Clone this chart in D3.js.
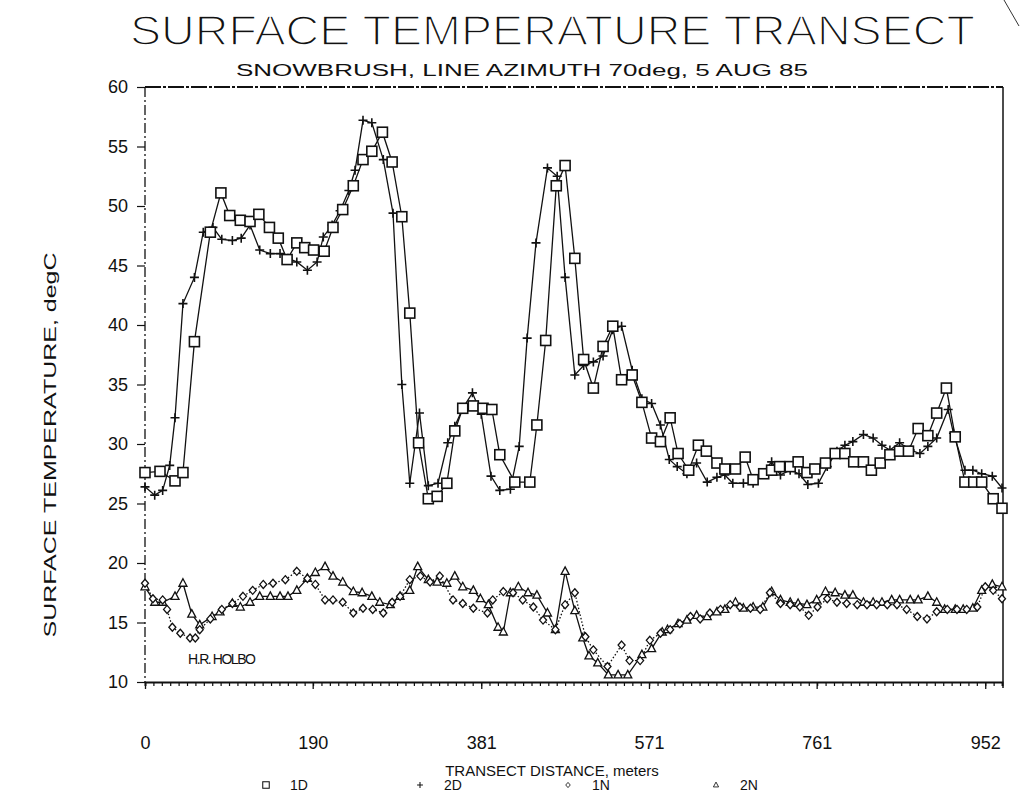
<!DOCTYPE html>
<html><head><meta charset="utf-8">
<script src="https://cdn.jsdelivr.net/npm/d3@7"></script>
<style>
html,body{margin:0;padding:0;background:#fff;}
text{font-family:"Liberation Sans",Arial,sans-serif;fill:#111;}
</style></head>
<body><svg id="c" width="1021" height="792"></svg>
<script>
// ---- data (distance m, temperature degC) ----
const s1D = [[0,27.6],[17,27.7],[34,26.9],[43,27.6],[56,38.6],[74,47.8],[86,51.1],[96,49.2],[108,48.8],[119,48.7],[129,49.3],[141,48.2],[151,47.3],[161,45.5],[172,46.9],[181,46.5],[191,46.3],[203,46.2],[213,48.2],[224,49.7],[236,51.7],[247,53.9],[257,54.6],[269,56.2],[280,53.7],[291,49.1],[300,41.0],[310,30.1],[321,25.4],[331,25.6],[342,26.7],[351,31.1],[360,33.0],[372,33.2],[383,33.0],[393,32.9],[402,29.1],[419,26.8],[436,26.8],[444,31.6],[454,38.7],[466,51.7],[476,53.4],[487,45.6],[497,37.1],[508,34.7],[519,38.2],[530,39.9],[540,35.4],[552,35.8],[563,33.5],[574,30.5],[584,30.2],[595,32.2],[604,29.2],[616,27.8],[627,29.9],[636,29.4],[648,28.4],[657,27.9],[669,27.9],[680,28.9],[689,27.0],[701,27.5],[710,27.8],[719,28.1],[731,28.1],[740,28.5],[750,27.6],[759,27.9],[771,28.4],[782,29.2],[793,29.2],[803,28.5],[814,28.5],[823,27.8],[833,28.4],[844,29.1],[855,29.4],[865,29.4],[876,31.3],[887,30.7],[897,32.6],[908,34.7],[918,30.6],[929,26.8],[939,26.8],[948,26.8],[961,25.4],[971,24.6]];
const s2D = [[0,26.4],[11,25.7],[20,26.1],[28,28.2],[34,32.2],[43,41.8],[56,44.0],[66,47.8],[77,48.2],[87,47.2],[99,47.1],[109,47.3],[119,48.4],[130,46.3],[142,46.0],[153,46.0],[162,45.6],[172,45.3],[184,44.6],[195,45.3],[202,47.4],[212,48.4],[221,49.6],[231,51.3],[238,53.0],[247,57.2],[257,57.0],[270,53.9],[281,49.4],[291,35.0],[300,26.7],[311,32.6],[321,26.5],[332,26.7],[343,30.1],[351,31.5],[360,33.0],[371,34.3],[381,32.5],[392,27.3],[402,26.1],[414,26.2],[424,29.8],[433,38.9],[443,46.9],[456,53.2],[467,52.5],[476,44.0],[487,35.8],[497,36.6],[508,36.9],[519,37.4],[530,39.6],[540,39.9],[552,36.2],[563,33.8],[574,33.4],[584,31.6],[594,28.7],[603,28.1],[614,27.5],[625,28.4],[637,26.8],[648,27.2],[657,27.4],[666,26.7],[678,26.7],[689,26.7],[700,27.6],[710,28.5],[720,27.4],[731,27.8],[741,27.5],[751,26.6],[763,26.7],[773,28.1],[784,29.4],[793,29.9],[802,30.2],[814,30.8],[825,30.5],[835,29.9],[844,29.5],[855,30.1],[867,29.5],[878,29.2],[887,29.8],[897,30.5],[910,32.9],[916,30.9],[929,27.8],[938,27.8],[948,27.5],[960,27.3],[971,26.3]];
const s1N = [[0,18.3],[9,17.0],[20,16.9],[25,16.1],[31,14.6],[40,14.1],[51,13.7],[57,13.7],[62,14.4],[74,15.3],[87,16.1],[99,16.6],[111,17.2],[122,17.7],[134,18.2],[145,18.3],[159,18.6],[172,19.3],[184,18.7],[193,18.2],[204,16.9],[213,16.9],[224,16.7],[236,15.8],[247,16.2],[258,16.1],[270,15.8],[280,16.7],[289,17.2],[300,18.6],[312,18.9],[323,18.4],[334,18.9],[349,16.9],[360,16.6],[372,16.2],[388,15.8],[394,16.9],[406,17.6],[417,17.5],[428,16.9],[440,16.3],[451,15.2],[465,14.4],[476,16.5],[487,17.5],[499,13.8],[508,12.7],[524,11.3],[540,13.1],[549,11.8],[561,11.8],[572,13.5],[584,14.1],[595,14.4],[606,14.9],[618,15.5],[629,15.3],[640,15.8],[652,16.1],[663,16.5],[674,16.3],[686,16.2],[697,16.1],[708,17.5],[720,16.6],[731,16.5],[742,16.3],[752,15.6],[762,16.3],[773,17.0],[784,16.7],[795,16.6],[807,16.5],[818,16.5],[829,16.5],[841,16.5],[852,16.5],[863,16.1],[875,15.5],[886,15.3],[897,15.9],[909,16.1],[920,16.1],[931,16.1],[943,16.3],[952,18.0],[961,17.7],[971,17.0]];
const s2N = [[0,18.0],[11,16.7],[20,16.7],[34,17.2],[43,18.3],[53,15.7],[62,14.8],[76,15.5],[85,15.9],[99,16.6],[108,16.3],[119,16.7],[130,17.2],[142,17.2],[153,17.2],[162,17.2],[172,17.7],[184,18.7],[193,19.2],[204,19.7],[213,18.9],[224,18.4],[236,17.6],[246,17.5],[257,17.2],[266,16.7],[278,16.5],[289,17.2],[300,17.7],[309,19.7],[321,18.6],[331,18.4],[342,18.3],[351,18.9],[360,18.0],[372,17.7],[380,17.0],[389,16.5],[400,14.6],[406,14.2],[414,17.5],[423,18.0],[434,17.5],[444,17.3],[456,15.8],[465,14.4],[476,19.3],[487,16.0],[496,13.7],[503,12.2],[513,11.6],[525,10.6],[536,10.6],[547,10.6],[563,12.3],[574,12.8],[586,14.2],[592,14.4],[604,14.9],[614,15.2],[625,15.6],[637,15.5],[648,15.9],[657,16.1],[669,16.7],[678,16.2],[689,16.3],[700,16.3],[710,17.6],[720,16.9],[731,16.7],[740,16.6],[750,16.5],[761,16.9],[771,17.6],[782,17.5],[793,17.3],[802,17.3],[814,16.7],[825,16.7],[835,16.7],[846,16.9],[855,16.9],[867,16.9],[876,16.9],[887,17.2],[897,16.7],[906,16.1],[918,16.1],[927,16.1],[938,16.2],[948,17.7],[960,18.2],[971,18.0]];
const xTickValues = [0,190,381,571,761,952];
const xTickLabels = ["0","190","381","571","761","952"];
const yTickValues = [10,15,20,25,30,35,40,45,50,55,60];
const seriesNames = ["1D","2D","1N","2N"];
const titleText = "SURFACE TEMPERATURE TRANSECT";
const subtitleText = "SNOWBRUSH, LINE AZIMUTH 70deg, 5 AUG 85";
const xTitle = "TRANSECT DISTANCE, meters";
const yTitle = "SURFACE TEMPERATURE, degC";
const authorText = "H.R. HOLBO";

// ---- drawing ----
const svg = d3.select("#c");
svg.append("rect").attr("width",1021).attr("height",792).attr("fill","#fff");
const L=145,R=1002,T=87,B=682;
const x = d3.scaleLinear().domain([0,971]).range([L,R]);
const y = d3.scaleLinear().domain([10,60]).range([B,T]);
const dv = "DejaVu Sans, Liberation Sans, sans-serif";

// frame
svg.append("line").attr("x1",L).attr("x2",R+1).attr("y1",T).attr("y2",T)
  .attr("stroke","#111").attr("stroke-width",1.8).attr("stroke-dasharray","16,2,3,2");
svg.append("line").attr("x1",L).attr("x2",L).attr("y1",T).attr("y2",B)
  .attr("stroke","#111").attr("stroke-width",1.3).attr("stroke-dasharray","10,3,2,3");
svg.append("line").attr("x1",R+1).attr("x2",R+1).attr("y1",T).attr("y2",B+6)
  .attr("stroke","#111").attr("stroke-width",1.5);

// y axis
const ya = svg.append("g").attr("transform",`translate(${L},0)`)
  .call(d3.axisLeft(y).tickValues(yTickValues).tickSize(8).tickPadding(9).tickFormat(d3.format("d")));
ya.select(".domain").remove();
ya.selectAll("line").attr("stroke","#111").attr("stroke-width",1.2);
ya.selectAll("text").attr("font-size",18).attr("font-family","Liberation Sans, Arial, sans-serif").attr("fill","#111");

// x axis minor ticks
const xm = svg.append("g").attr("transform",`translate(0,${B})`)
  .call(d3.axisBottom(x).tickValues(d3.range(0,972,9.52)).tickSize(4).tickFormat(""));
xm.select(".domain").attr("stroke","#111").attr("stroke-width",1.8);
xm.selectAll("line").attr("stroke","#111").attr("stroke-width",1.2);
const xa = svg.append("g").attr("transform",`translate(0,${B})`)
  .call(d3.axisBottom(x).tickValues(xTickValues).tickSize(7).tickPadding(47).tickFormat((d,i)=>xTickLabels[i]));
xa.select(".domain").remove();
xa.selectAll("line").attr("stroke","#111").attr("stroke-width",1.3);
xa.selectAll("text").attr("font-size",18).attr("font-family","Liberation Sans, Arial, sans-serif").attr("fill","#111");

// titles (white stroke thins the glyphs to match the plotter's light lettering)
svg.append("text").attr("x",130).attr("y",45).attr("font-size",42)
  .attr("stroke","#fff").attr("stroke-width",1.6)
  .attr("textLength",845).attr("lengthAdjust","spacingAndGlyphs").text(titleText);
svg.append("text").attr("x",522).attr("y",76).attr("text-anchor","middle").attr("font-size",16)
  .attr("font-family",dv)
  .attr("textLength",572).attr("lengthAdjust","spacingAndGlyphs").text(subtitleText);
svg.append("text").attr("transform","translate(56,445) rotate(-90)").attr("text-anchor","middle")
  .attr("font-size",17)
  .attr("textLength",385).attr("lengthAdjust","spacingAndGlyphs").text(yTitle);
svg.append("text").attr("x",552).attr("y",776).attr("text-anchor","middle").attr("font-size",15)
  .text(xTitle);
svg.append("text").attr("x",188).attr("y",664).attr("font-size",14).attr("textLength",68)
  .attr("lengthAdjust","spacing").text(authorText);

// scan artifact at corner
svg.append("line").attr("x1",1004).attr("y1",0).attr("x2",1019).attr("y2",26).attr("stroke","#333").attr("stroke-width",1);

// lines
const line = d3.line().x(d=>x(d[0])).y(d=>y(d[1]));
const data = [s1D,s2D,s1N,s2N];
const dash = [null,null,"1.5,2",null];
data.forEach((s,i)=>{
  svg.append("path").datum(s).attr("d",line).attr("fill","none").attr("stroke","#111")
    .attr("stroke-width",1.3).attr("stroke-dasharray",dash[i]);
});

// markers
const sym = {
  "1D": g=>g.append("rect").attr("x",-5).attr("y",-5).attr("width",10).attr("height",10).attr("fill","#fff").attr("stroke","#111").attr("stroke-width",1.6),
  "2D": g=>g.append("path").attr("d","M-4.5,0H4.5M0,-4.5V4.5").attr("stroke","#111").attr("stroke-width",1.6),
  "1N": g=>g.append("path").attr("d","M0,-4L3.5,0L0,4L-3.5,0Z").attr("fill","#fff").attr("stroke","#111").attr("stroke-width",1.3),
  "2N": g=>g.append("path").attr("d","M0,-4.5L4,3H-4Z").attr("fill","#fff").attr("stroke","#111").attr("stroke-width",1.3)
};
[3,2,1,0].forEach(i=>{
  const name = seriesNames[i];
  svg.append("g").selectAll("g").data(data[i]).join("g")
    .attr("transform",d=>`translate(${x(d[0])},${y(d[1])})`)
    .each(function(){ sym[name](d3.select(this)); });
});

// legend
const legX = [266,420,568,716];
seriesNames.forEach((n,i)=>{
  const g = svg.append("g").attr("transform",`translate(${legX[i]},785) scale(0.65)`);
  sym[n](g);
  svg.append("text").attr("x",legX[i]+24).attr("y",790).attr("font-size",14).text(n);
});
</script></body></html>
